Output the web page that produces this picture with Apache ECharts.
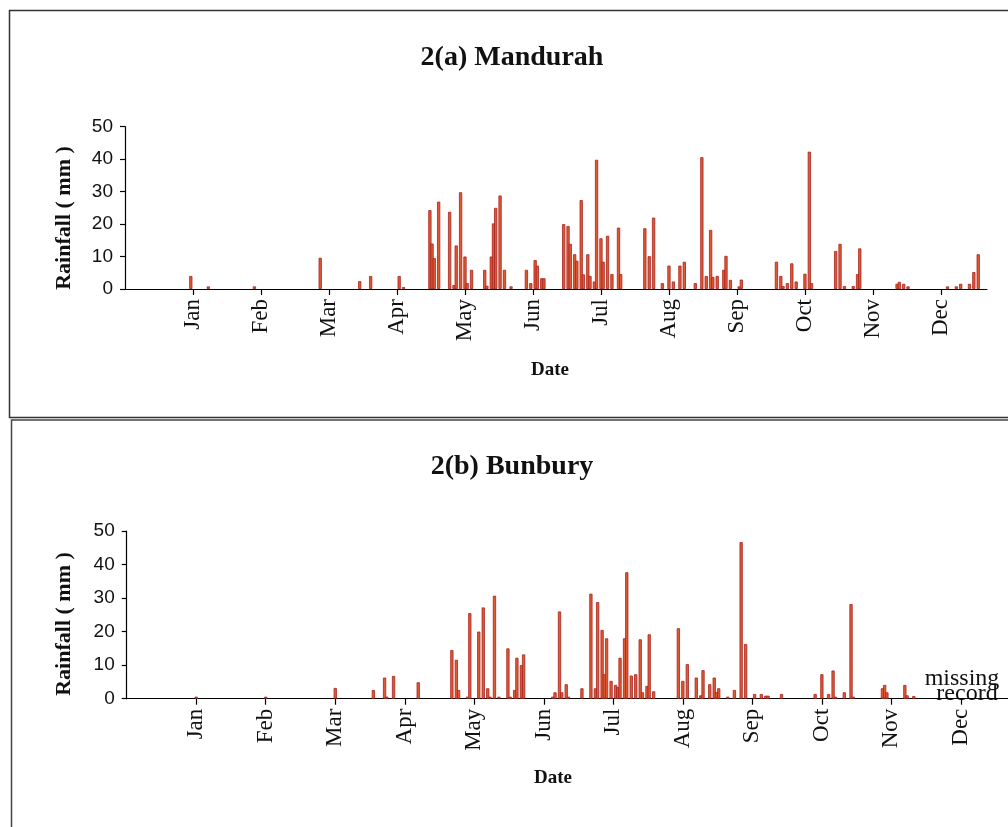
<!DOCTYPE html>
<html>
<head>
<meta charset="utf-8">
<script src="https://cdn.jsdelivr.net/npm/echarts@6/dist/echarts.min.js"></script>
<style>
  html, body { margin: 0; padding: 0; background: #fff; }
  #chart { width: 1008px; height: 827px; }
</style>
</head>
<body>
<div id="chart"></div>
<script>
// ---- data (x = day offset on the chart's date axis, 31 units per month tick) ----
const months = ['Jan','Feb','Mar','Apr','May','Jun','Jul','Aug','Sep','Oct','Nov','Dec'];
const monthTickValues = [31, 62, 93, 124, 155, 186, 217, 248, 279, 310, 341, 372];
const yTicks = [0, 10, 20, 30, 40, 50];

const mandurahDay = [30,38,59,89,107,112,125,127,139,140,141,143,148,150,151,153,155,156,158,164,165,167,168,169,171,173,176,183,185,187,188,190,191,200,202,203,205,206,208,209,211,212,214,215,217,218,220,222,225,226,237,239,241,245,248,250,253,255,260,263,265,267,268,270,273,274,276,280,281,297,299,300,302,304,306,310,312,313,324,326,328,332,334,335,352,353,355,357,375,379,381,385,387,389];
const mandurahRain = [4.0,0.8,0.8,9.6,2.4,4.0,4.0,0.6,24.3,14.0,9.5,26.9,23.8,1.2,13.4,29.8,10.0,1.8,5.9,5.9,1.0,10.0,20.2,25.0,28.8,5.9,0.8,5.9,1.8,8.9,7.2,3.3,3.3,20.0,19.4,13.9,10.7,8.7,27.4,4.5,10.7,4.0,2.3,39.8,15.6,8.4,16.4,4.6,18.9,4.6,18.7,10.1,22.0,1.8,7.2,2.3,7.2,8.4,1.8,40.6,4.0,18.2,3.7,4.0,5.9,10.2,2.8,0.8,2.9,8.4,4.0,0.9,1.8,7.9,2.3,4.7,42.3,1.8,11.7,13.9,0.9,0.9,4.6,12.5,1.6,2.2,1.6,0.8,0.8,0.8,1.6,1.6,5.2,10.7];

const bunburyDay = [31,62,93,110,115,116,119,130,145,147,148,152,153,157,159,161,162,164,166,170,171,173,174,176,177,190,191,193,194,196,197,203,207,209,210,212,213,214,216,218,219,220,222,223,225,227,229,230,232,233,235,246,248,250,254,256,257,260,262,263,264,268,271,274,276,280,283,285,286,292,307,310,313,315,316,320,323,324,337,338,339,347,348,351];
const bunburyRain = [0.6,0.6,3.2,2.6,6.3,0.6,6.8,4.9,14.5,11.6,2.6,0.6,25.5,20.0,27.2,3.1,0.6,30.7,0.6,15.0,0.6,2.6,12.2,10.0,13.2,0.6,1.9,26.0,1.9,4.3,0.6,3.1,31.3,3.1,28.8,20.5,7.3,18.0,5.3,4.1,3.5,12.2,18.0,37.7,6.9,7.3,17.7,1.9,3.8,19.2,2.2,21.0,5.3,10.3,6.3,1.0,8.5,4.3,6.3,2.0,3.1,0.6,2.6,46.7,16.3,1.4,1.4,0.9,0.9,1.4,1.4,7.3,1.4,8.4,0.6,1.9,28.2,0.6,3.1,4.1,1.9,4.1,1.0,0.8];

const titles = ['2(a) Mandurah', '2(b) Bunbury'];
const yName = 'Rainfall ( mm )';
const xName = 'Date';
const noteText = ['missing', 'record'];

// ---- chart ----
const pairs = (xs, ys) => xs.map((x, i) => [x, ys[i]]);
const serif = 'Liberation Serif';
const sans = 'Liberation Sans';

function xAxisFor(gridIndex) {
  return {
    type: 'value', gridIndex, min: 0, max: 393,
    axisLine: { show: true, onZero: false, lineStyle: { color: '#000', width: 1.2 } },
    axisTick: { show: true, customValues: monthTickValues, length: 6, inside: false, lineStyle: { color: '#000', width: 1.2 } },
    axisLabel: {
      customValues: monthTickValues, rotate: 90, margin: 10,
      fontFamily: serif, fontSize: 23, color: '#111',
      formatter: v => { const i = monthTickValues.indexOf(v); return i >= 0 ? months[i] : ''; }
    },
    splitLine: { show: false }
  };
}
function yAxisFor(gridIndex) {
  return {
    type: 'value', gridIndex, min: 0, max: 50, interval: 10,
    axisLine: { show: true, lineStyle: { color: '#000', width: 1.2 } },
    axisTick: { show: true, length: 5, lineStyle: { color: '#000', width: 1.2 } },
    axisLabel: { fontFamily: sans, fontSize: 19, color: '#111', margin: 12 },
    splitLine: { show: false }
  };
}
const barStyle = { color: '#DE5A33', borderColor: '#A8231E', borderWidth: 0.8 };

const option = {
  animation: false,
  backgroundColor: '#fff',
  grid: [
    { left: 125, top: 126.7, width: 862, height: 162.3 },
    { left: 126.7, top: 531, width: 882, height: 167.7 }
  ],
  xAxis: [xAxisFor(0), xAxisFor(1)],
  yAxis: [yAxisFor(0), yAxisFor(1)],
  series: [
    { type: 'bar', xAxisIndex: 0, yAxisIndex: 0, barWidth: 3.2, itemStyle: barStyle, data: pairs(mandurahDay, mandurahRain) },
    { type: 'bar', xAxisIndex: 1, yAxisIndex: 1, barWidth: 3.2, itemStyle: barStyle, data: pairs(bunburyDay, bunburyRain) }
  ],
  graphic: [
    // panel frames
    { type: 'polyline', shape: { points: [[1010, 10.5], [9.5, 10.5], [9.5, 417.5], [1010, 417.5]] }, style: { stroke: '#333', lineWidth: 1.5, fill: null } },
    { type: 'polyline', shape: { points: [[1010, 420], [11.5, 420], [11.5, 830]] }, style: { stroke: '#444', lineWidth: 1.5, fill: null } },
    // titles
    { type: 'text', x: 512, y: 58, style: { text: titles[0], font: 'bold 28px "Liberation Serif"', fill: '#111', align: 'center', verticalAlign: 'middle' } },
    { type: 'text', x: 512, y: 467, style: { text: titles[1], font: 'bold 28px "Liberation Serif"', fill: '#111', align: 'center', verticalAlign: 'middle' } },
    // axis names
    { type: 'text', x: 64, y: 218, rotation: Math.PI / 2, style: { text: yName, font: 'bold 22px "Liberation Serif"', fill: '#111', align: 'center', verticalAlign: 'middle' } },
    { type: 'text', x: 64, y: 624, rotation: Math.PI / 2, style: { text: yName, font: 'bold 22px "Liberation Serif"', fill: '#111', align: 'center', verticalAlign: 'middle' } },
    { type: 'text', x: 550, y: 370, style: { text: xName, font: 'bold 19px "Liberation Serif"', fill: '#111', align: 'center', verticalAlign: 'middle' } },
    { type: 'text', x: 553, y: 778, style: { text: xName, font: 'bold 19px "Liberation Serif"', fill: '#111', align: 'center', verticalAlign: 'middle' } },
    // note
    { type: 'text', x: 962, y: 679, style: { text: noteText[0], font: '24px "Liberation Serif"', fill: '#111', align: 'center', verticalAlign: 'middle' } },
    { type: 'text', x: 967, y: 694, style: { text: noteText[1], font: '24px "Liberation Serif"', fill: '#111', align: 'center', verticalAlign: 'middle' } }
  ]
};

const chart = echarts.init(document.getElementById('chart'), null, { renderer: 'canvas' });
chart.setOption(option);
</script>
</body>
</html>
